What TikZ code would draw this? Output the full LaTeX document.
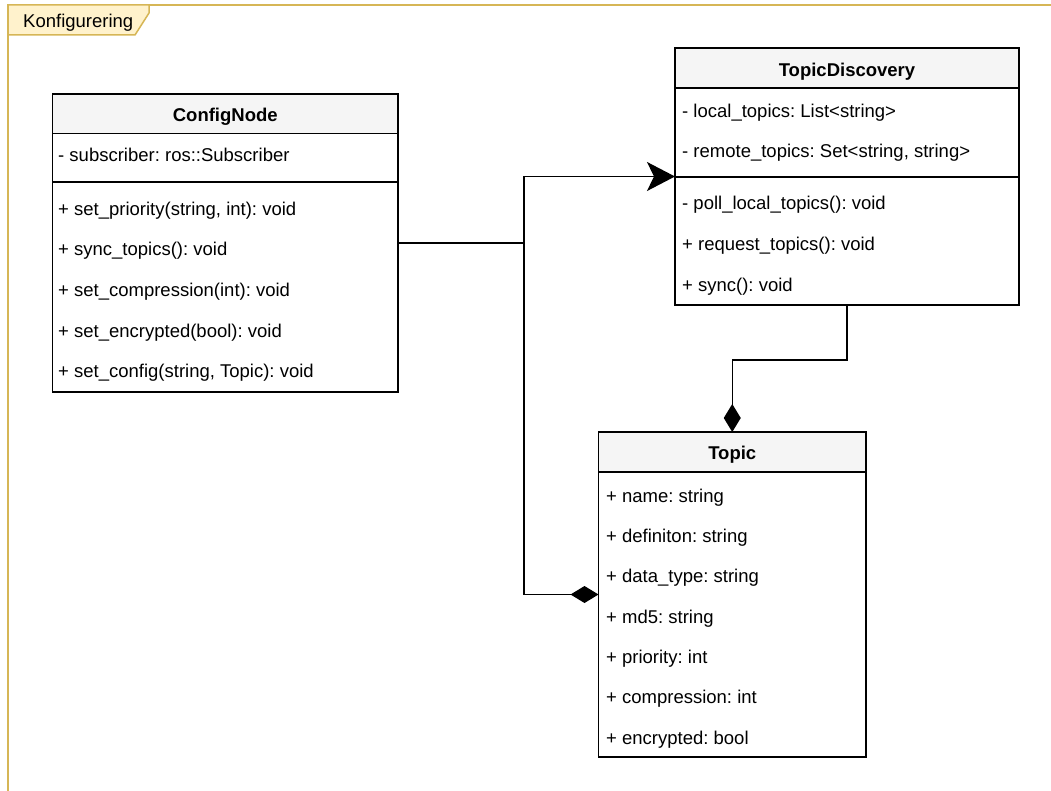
\documentclass[tikz,border=0pt]{standalone}
\usepackage{fontspec}
\setmainfont{Liberation Sans}
\usetikzlibrary{arrows.meta}
\frenchspacing

\definecolor{framestroke}{HTML}{D6B656}
\definecolor{framefill}{HTML}{FFF2CC}
\definecolor{headfill}{HTML}{F5F5F5}

\tikzset{
  classbox/.style={draw=black, line width=1.5pt, fill=white, inner sep=0pt, outer sep=0pt, anchor=north west},
  headbar/.style={draw=black, line width=1.5pt, fill=headfill},
  sepline/.style={draw=black, line width=1.5pt},
  member/.style={anchor=base west, inner sep=0pt},
  classtitle/.style={anchor=base, inner sep=0pt, font=\fontsize{18.5}{22}\selectfont\bfseries},
  conn/.style={draw=black, line width=1.5pt},
  genarrow/.style={-{Stealth[length=28pt, width=29pt, inset=7pt]}},
  comparrow/.style={-{Diamond[length=28pt, width=17pt]}},
  framebox/.style={draw=framestroke, line width=1.5pt},
}

\begin{document}
\begin{tikzpicture}[x=1pt, y=-1pt, font=\fontsize{18.5}{22}\selectfont]
\useasboundingbox (0,0) rectangle (1051,791);

% package frame
\draw[framebox] (8,791) -- (8,5) -- (1051,5);
\draw[framebox, fill=framefill, line join=miter] (8,5) -- (149,5) -- (149,13) -- (135,35) -- (8,35) -- cycle;
\node[anchor=base west, inner sep=0pt] (frameLabel) at (23,28) {Konfigurering};

% ConfigNode
\node[classbox, minimum width=345.5pt, minimum height=298pt] (cn) at (52.5,94) {};
\draw[headbar] (52.5,94) rectangle (398,133.5);
\draw[sepline] (52.5,182) -- (398,182);
\node[classtitle] (cnTitle) at (225.25,122) {ConfigNode};
\node[member] (cnA1) at (58,162) {- subscriber: ros::Subscriber};
\node[member] (cnM1) at (58,215.5) {+ set\_priority(string, int): void};
\node[member] (cnM2) at (58,256) {+ sync\_topics(): void};
\node[member] (cnM3) at (58,296.5) {+ set\_compression(int): void};
\node[member] (cnM4) at (58,337) {+ set\_encrypted(bool): void};
\node[member] (cnM5) at (58,377.5) {+ set\_config(string, Topic): void};

% TopicDiscovery
\node[classbox, minimum width=344pt, minimum height=257pt] (td) at (675,48) {};
\draw[headbar] (675,48) rectangle (1019,88);
\draw[sepline] (675,177) -- (1019,177);
\node[classtitle] (tdTitle) at (847,77) {TopicDiscovery};
\node[member] (tdA1) at (682,118) {- local\_topics: List<string>};
\node[member] (tdA2) at (682,158) {- remote\_topics: Set<string, string>};
\node[member] (tdM1) at (682,210) {- poll\_local\_topics(): void};
\node[member] (tdM2) at (682,251) {+ request\_topics(): void};
\node[member] (tdM3) at (682,292) {+ sync(): void};

% Topic
\node[classbox, minimum width=267.5pt, minimum height=325pt] (tp) at (598.5,432) {};
\draw[headbar] (598.5,432) rectangle (866,472);
\node[classtitle] (tpTitle) at (732.25,459) {Topic};
\node[member] (tpA1) at (606,502) {+ name: string};
\node[member] (tpA2) at (606,542.3) {+ definiton: string};
\node[member] (tpA3) at (606,582.6) {+ data\_type: string};
\node[member] (tpA4) at (606,623) {+ md5: string};
\node[member] (tpA5) at (606,663) {+ priority: int};
\node[member] (tpA6) at (606,703.5) {+ compression: int};
\node[member] (tpA7) at (606,744) {+ encrypted: bool};

% connectors
\coordinate (junction) at (524,243);
\coordinate (bend) at (790,360);
\draw[conn, genarrow] (cn.east) -- (junction) |- (td.west);
\draw[conn, comparrow] (cn.east) -- (junction) |- (tp.west);
\draw[conn, comparrow] (td.south) |- (bend) -| (tp.north);
\end{tikzpicture}
\end{document}
